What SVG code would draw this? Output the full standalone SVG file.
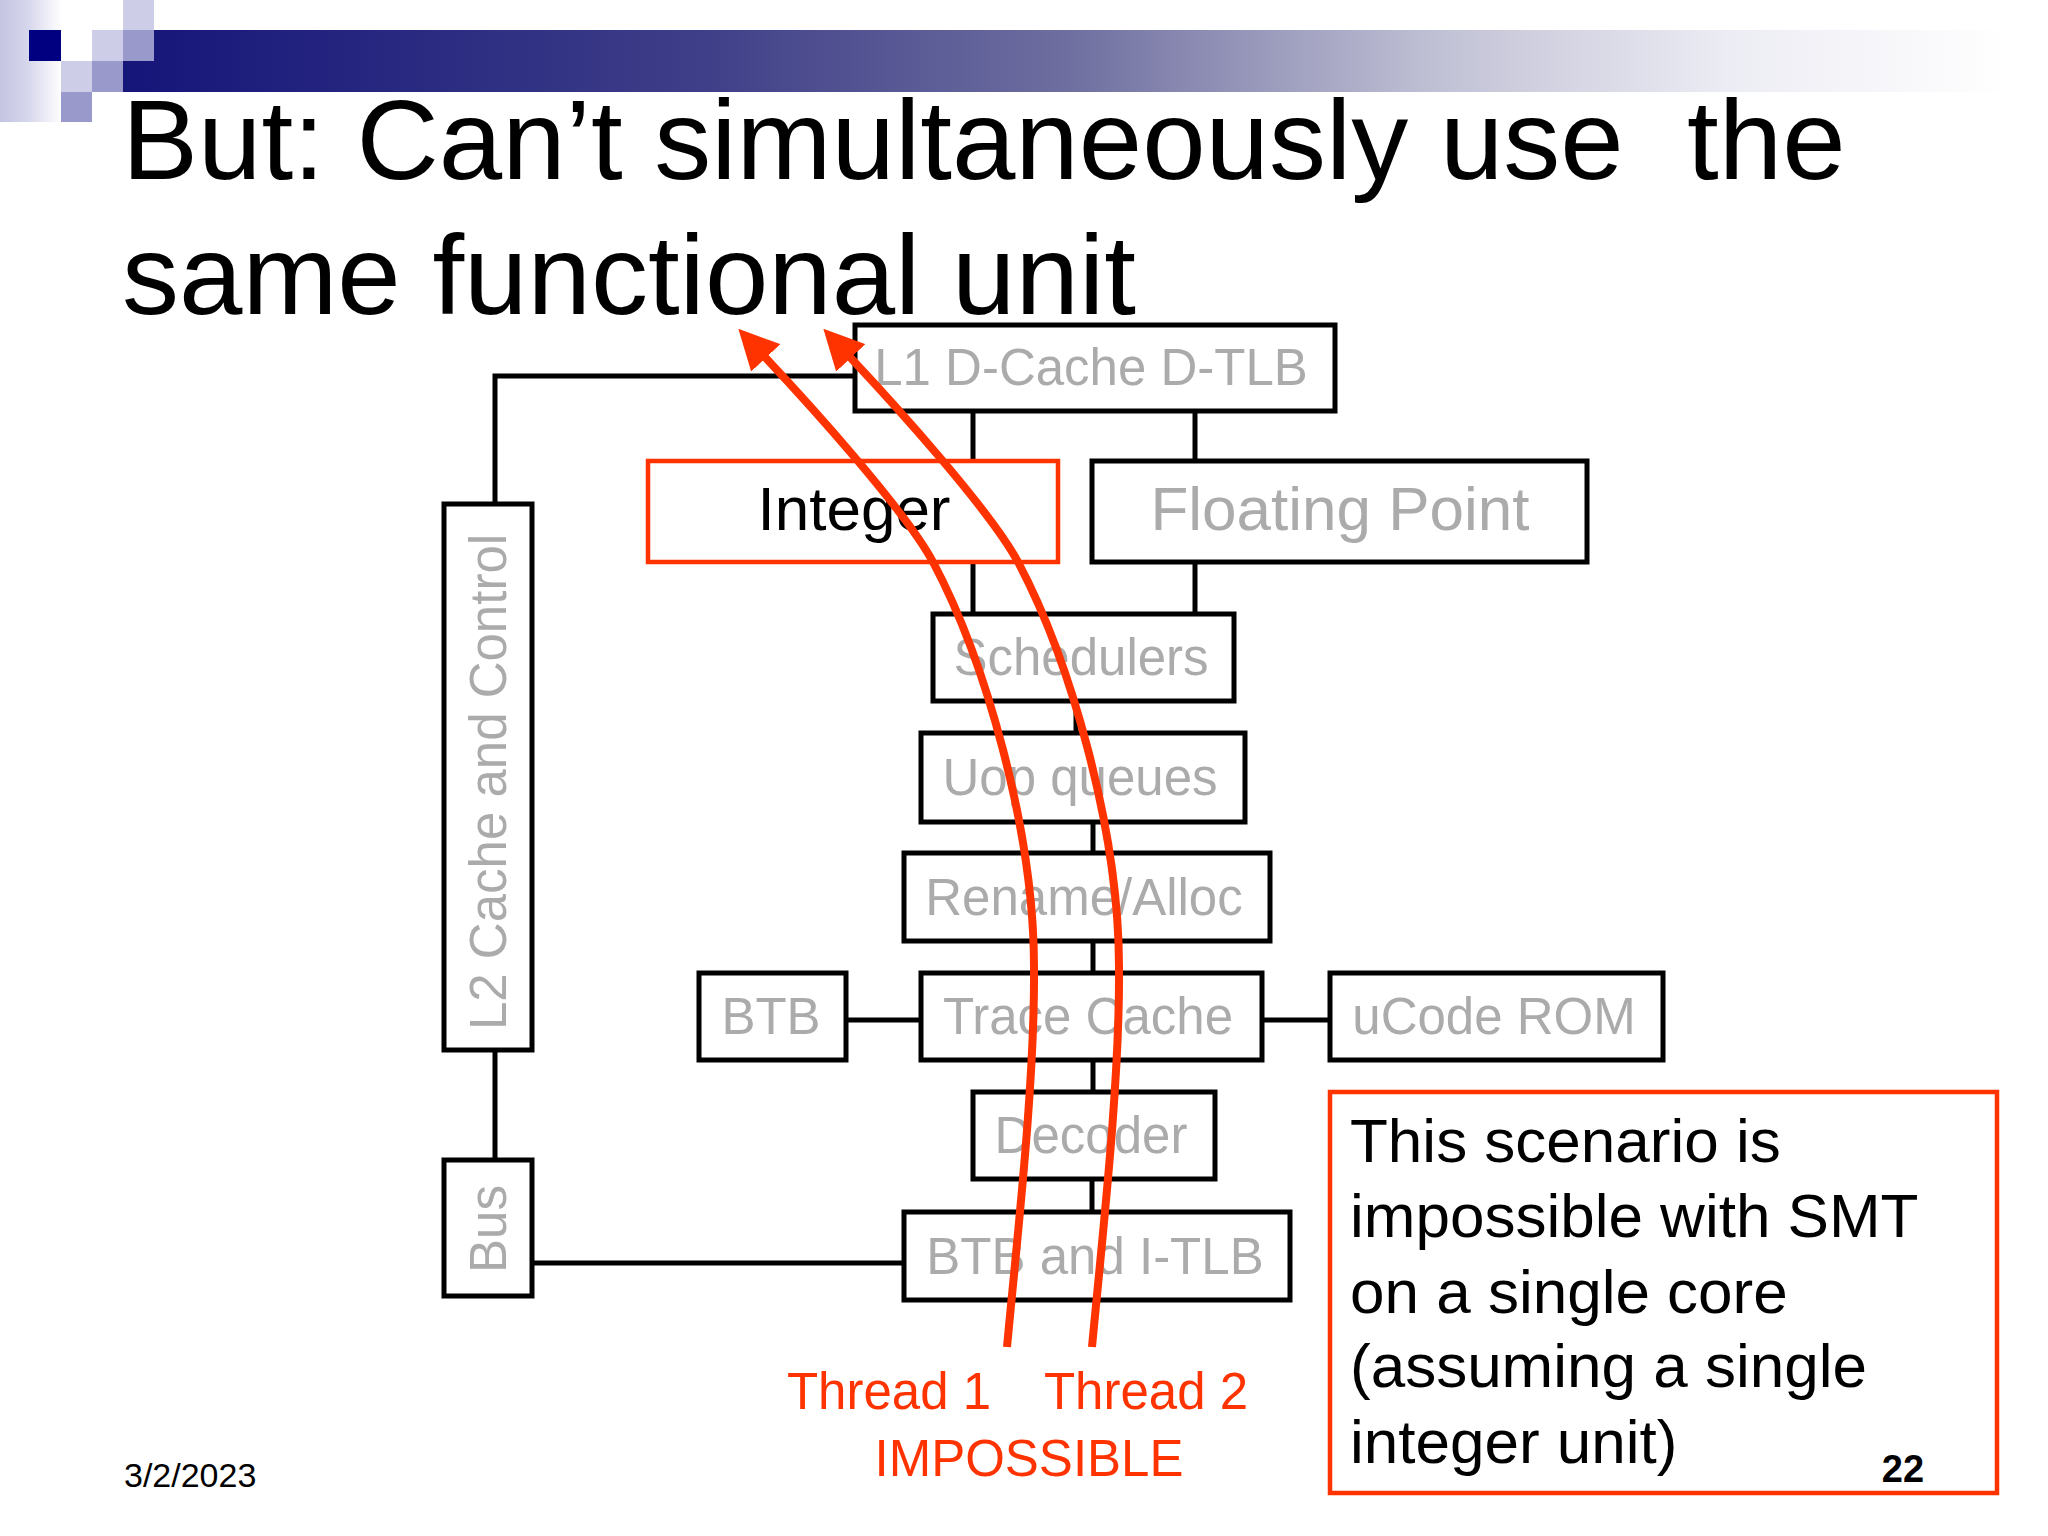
<svg xmlns="http://www.w3.org/2000/svg" width="2048" height="1536" viewBox="0 0 2048 1536">
<defs>
<linearGradient id="bar" x1="123" y1="0" x2="2010" y2="0" gradientUnits="userSpaceOnUse">
<stop offset="0" stop-color="#15157a"/>
<stop offset="0.3" stop-color="#3d3d88"/>
<stop offset="0.5" stop-color="#6e6ea0"/>
<stop offset="0.7" stop-color="#c2c2d6"/>
<stop offset="0.85" stop-color="#ececf4"/>
<stop offset="1" stop-color="#ffffff"/>
</linearGradient>
<linearGradient id="strip" x1="0" y1="0" x2="1" y2="0">
<stop offset="0" stop-color="#c4c4e2"/>
<stop offset="0.45" stop-color="#d6d6ec"/>
<stop offset="1" stop-color="#ffffff"/>
</linearGradient>
<marker id="arrow" viewBox="0 0 10 10" refX="1" refY="5" markerWidth="5" markerHeight="5" orient="auto" markerUnits="strokeWidth">
<path d="M0,0 L10,5 L0,10 z" fill="#ff3300"/>
</marker>
<style>
.box{fill:#ffffff;stroke:#000000;stroke-width:5}
.redbox{fill:#ffffff;stroke:#ff3300;stroke-width:4.5}
.conn{fill:none;stroke:#000000;stroke-width:5}
.thread{fill:none;stroke:#ff3300;stroke-width:8}
.gray{font-family:"Liberation Sans",Arial,sans-serif;font-size:51px;fill:#ababab;text-anchor:middle}
.big{font-family:"Liberation Sans",Arial,sans-serif;font-size:62px}
.title{font-family:"Liberation Sans",Arial,sans-serif;font-size:114px;fill:#000000}
.red{font-family:"Liberation Sans",Arial,sans-serif;font-size:51px;fill:#ff3300;text-anchor:middle}
.lt{fill:#cdcde8}
.md{fill:#9999cc}
</style>
</defs>
<rect width="2048" height="1536" fill="#ffffff"/>
<g id="header">
<rect x="0" y="0" width="62" height="122" fill="url(#strip)"/>
<rect x="123" y="30" width="1925" height="62" fill="url(#bar)"/>
<rect x="29" y="30" width="32" height="31" fill="#000080"/>
<rect class="lt" x="123" y="0" width="31" height="30"/>
<rect class="lt" x="92" y="30" width="31" height="31"/>
<rect class="md" x="123" y="30" width="31" height="31"/>
<rect class="lt" x="61" y="61" width="31" height="31"/>
<rect class="md" x="92" y="61" width="31" height="31"/>
<rect class="md" x="61" y="92" width="31" height="30"/>
</g>
<g id="title">
<text class="title" x="122" y="179" xml:space="preserve">But: Can’t simultaneously use  the</text>
<text class="title" x="122" y="314">same functional unit</text>
</g>
<g id="connectors">
<path class="conn" d="M495 504 V376 H855"/>
<path class="conn" d="M495 1050 V1160"/>
<path class="conn" d="M532 1263 H904"/>
<path class="conn" d="M973 411 V461"/>
<path class="conn" d="M1195 411 V461"/>
<path class="conn" d="M973 562 V614"/>
<path class="conn" d="M1195 562 V614"/>
<path class="conn" d="M1076 701 V733"/>
<path class="conn" d="M1093 822 V853"/>
<path class="conn" d="M1093 941 V973"/>
<path class="conn" d="M846 1020 H921"/>
<path class="conn" d="M1262 1020 H1330"/>
<path class="conn" d="M1093 1060 V1092"/>
<path class="conn" d="M1092 1179 V1212"/>
</g>
<g id="l1">
<rect class="box" x="855" y="325" width="480" height="86"/>
<text class="gray" x="1091" y="385">L1 D-Cache D-TLB</text>
</g>
<g id="integer">
<rect class="redbox" x="648" y="461" width="410" height="101"/>
<text class="big" x="854" y="530" text-anchor="middle" fill="#000000">Integer</text>
</g>
<g id="fp">
<rect class="box" x="1092" y="461" width="495" height="101"/>
<text class="big" x="1340" y="530" text-anchor="middle" fill="#ababab">Floating Point</text>
</g>
<g id="l2">
<rect class="box" x="444" y="504" width="88" height="546"/>
<text class="gray" transform="translate(506 782) rotate(-90)">L2 Cache and Control</text>
</g>
<g id="bus">
<rect class="box" x="444" y="1160" width="88" height="136"/>
<text class="gray" transform="translate(506 1229) rotate(-90)">Bus</text>
</g>
<g id="schedulers">
<rect class="box" x="933" y="614" width="301" height="87"/>
<text class="gray" x="1081" y="675">Schedulers</text>
</g>
<g id="uop">
<rect class="box" x="921" y="733" width="324" height="89"/>
<text class="gray" x="1080" y="795">Uop queues</text>
</g>
<g id="rename">
<rect class="box" x="904" y="853" width="366" height="88"/>
<text class="gray" x="1084" y="915">Rename/Alloc</text>
</g>
<g id="btb">
<rect class="box" x="699" y="973" width="147" height="87"/>
<text class="gray" x="771" y="1034">BTB</text>
</g>
<g id="trace">
<rect class="box" x="921" y="973" width="341" height="87"/>
<text class="gray" x="1088" y="1034">Trace Cache</text>
</g>
<g id="ucode">
<rect class="box" x="1330" y="973" width="333" height="87"/>
<text class="gray" x="1494" y="1034">uCode ROM</text>
</g>
<g id="decoder">
<rect class="box" x="973" y="1092" width="242" height="87"/>
<text class="gray" x="1091" y="1153">Decoder</text>
</g>
<g id="btbitlb">
<rect class="box" x="904" y="1212" width="386" height="88"/>
<text class="gray" x="1095" y="1274">BTB and I-TLB</text>
</g>
<g id="threads">
<path class="thread" marker-end="url(#arrow)" d="M1007 1347 C1018 1230 1035 1080 1034 967 C1034 830 985 660 933 562 C905 510 810 405 763 355"/>
<path class="thread" marker-end="url(#arrow)" d="M1092 1347 C1103 1230 1120 1080 1119 967 C1119 830 1070 660 1018 562 C990 510 895 405 848 355"/>
<text class="red" x="889" y="1409">Thread 1</text>
<text class="red" x="1146" y="1409">Thread 2</text>
<text class="red" x="1029" y="1476">IMPOSSIBLE</text>
</g>
<g id="note">
<rect class="redbox" x="1330" y="1092" width="667" height="401" stroke-width="5"/>
<text class="big" x="1350" y="1162" fill="#000000">This scenario is</text>
<text class="big" x="1350" y="1237" fill="#000000">impossible with SMT</text>
<text class="big" x="1350" y="1313" fill="#000000">on a single core</text>
<text class="big" x="1350" y="1387" fill="#000000">(assuming a single</text>
<text class="big" x="1350" y="1463" fill="#000000">integer unit)</text>
</g>
<g id="footer">
<text x="124" y="1487" font-family="Liberation Sans, Arial, sans-serif" font-size="34" fill="#000000">3/2/2023</text>
<text x="1903" y="1482" font-family="Liberation Sans, Arial, sans-serif" font-size="38" font-weight="bold" text-anchor="middle" fill="#000000">22</text>
</g>
</svg>
